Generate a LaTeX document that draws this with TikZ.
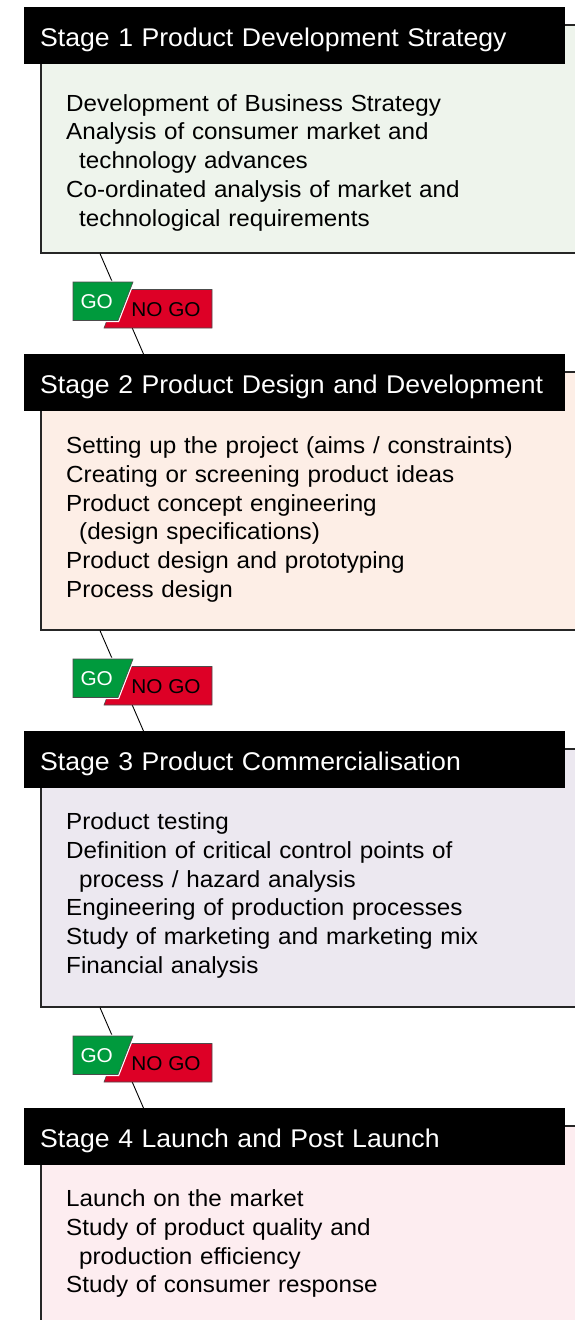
\documentclass[tikz,border=0pt]{standalone}
\usepackage{fontspec}
\setmainfont[FakeStretch=1.04]{Liberation Sans}
\usetikzlibrary{calc}

\definecolor{fase1}{RGB}{238,244,236}
\definecolor{fase2}{RGB}{253,238,230}
\definecolor{fase3}{RGB}{236,232,240}
\definecolor{fase4}{RGB}{253,237,240}
\definecolor{gogreen}{RGB}{0,154,61}
\definecolor{nogored}{RGB}{221,0,38}

\tikzset{
  fasehead/.style={fill=black, text=white, anchor=north west,
    minimum width=541pt, minimum height=57pt, inner xsep=16pt, inner ysep=0pt,
    text width=509pt, align=left, text height=21pt, text depth=0pt,
    font=\fontsize{25.6}{30}\selectfont},
  fasebox/.style={draw=black!85, line width=1.6pt, anchor=north west,
    minimum width=560pt, inner sep=0pt},
  voci/.style={anchor=north west, inner sep=0pt, text width=490pt, align=left,
    font=\fontsize{23.3}{28.7}\selectfont},
  linea/.style={draw=black, line width=0.9pt},
  gobox/.style={fill=gogreen, draw=black!70, line width=0.6pt},
  nogobox/.style={fill=nogored, draw=black!70, line width=0.6pt},
  golabel/.style={text=white, inner sep=0pt, font=\fontsize{20}{20}\selectfont},
  nogolabel/.style={text=black, inner sep=0pt, font=\fontsize{20}{20}\selectfont},
}

\begin{document}
\begin{tikzpicture}[x=1pt, y=-1pt]
    \clip (0,0) rectangle (575,1320);

    % Fase 1
    \node[fasebox, fill=fase1, minimum height=228pt] (box1) at (40,24) {};
    \node[fasehead] (head1) at (24,7) {Stage 1 Product Development Strategy};
    \node[voci] (voci1) at (66,91) {\rule{0pt}{20pt}Development of Business Strategy\\
        Analysis of consumer market and\\
        \hspace*{13pt}technology advances\\
        Co-ordinated analysis of market and\\
        \hspace*{13pt}technological requirements};

    % Fase 2
    \node[fasebox, fill=fase2, minimum height=258pt] (box2) at (40,371) {};
    \node[fasehead] (head2) at (24,354) {Stage 2 Product Design and Development};
    \node[voci] (voci2) at (66,433.5) {\rule{0pt}{20pt}Setting up the project (aims / constraints)\\
        Creating or screening product ideas\\
        Product concept engineering\\
        \hspace*{13pt}(design specifications)\\
        Product design and prototyping\\
        Process design};

    % Fase 3
    \node[fasebox, fill=fase3, minimum height=258pt] (box3) at (40,748) {};
    \node[fasehead] (head3) at (24,731) {Stage 3 Product Commercialisation};
    \node[voci] (voci3) at (66,809.5) {\rule{0pt}{20pt}Product testing\\
        Definition of critical control points of\\
        \hspace*{13pt}process / hazard analysis\\
        Engineering of production processes\\
        Study of marketing and marketing mix\\
        Financial analysis};

    % Fase 4
    \node[fasebox, fill=fase4, minimum height=240pt] (box4) at (40,1125) {};
    \node[fasehead] (head4) at (24,1108) {Stage 4 Launch and Post Launch};
    \node[voci] (voci4) at (66,1186.5) {\rule{0pt}{20pt}Launch on the market\\
        Study of product quality and\\
        \hspace*{13pt}production efficiency\\
        Study of consumer response};

    % collegamenti tra le fasi
    \draw[linea] ($(box1.south west)+(60,0)$) -- ($(head2.north west)+(119.5,0)$);
    \draw[linea] ($(box2.south west)+(60,0)$) -- ($(head3.north west)+(119.5,0)$);
    \draw[linea] ($(box3.south west)+(60,0)$) -- ($(head4.north west)+(119.5,0)$);

    % GO / NO GO
    \draw[nogobox] (119,289.5) -- (212,289.5) -- (212,328) -- (104,328) -- cycle;
    \draw[white, line width=3pt] (73,282) -- (133,282) -- (118,320.5) -- (73,320.5) -- cycle;
    \draw[gobox] (73,282) -- (133,282) -- (118,320.5) -- (73,320.5) -- cycle;
    \node[golabel] (go1) at (96.7,301.7) {GO};
    \node[nogolabel] (nogo1) at (166,309.3) {NO GO};

    \draw[nogobox] (119,666.5) -- (212,666.5) -- (212,705) -- (104,705) -- cycle;
    \draw[white, line width=3pt] (73,659) -- (133,659) -- (118,697.5) -- (73,697.5) -- cycle;
    \draw[gobox] (73,659) -- (133,659) -- (118,697.5) -- (73,697.5) -- cycle;
    \node[golabel] (go2) at (96.7,678.7) {GO};
    \node[nogolabel] (nogo2) at (166,686.3) {NO GO};

    \draw[nogobox] (119,1043.5) -- (212,1043.5) -- (212,1082) -- (104,1082) -- cycle;
    \draw[white, line width=3pt] (73,1036) -- (133,1036) -- (118,1074.5) -- (73,1074.5) -- cycle;
    \draw[gobox] (73,1036) -- (133,1036) -- (118,1074.5) -- (73,1074.5) -- cycle;
    \node[golabel] (go3) at (96.7,1055.7) {GO};
    \node[nogolabel] (nogo3) at (166,1063.3) {NO GO};
\end{tikzpicture}
\end{document}
